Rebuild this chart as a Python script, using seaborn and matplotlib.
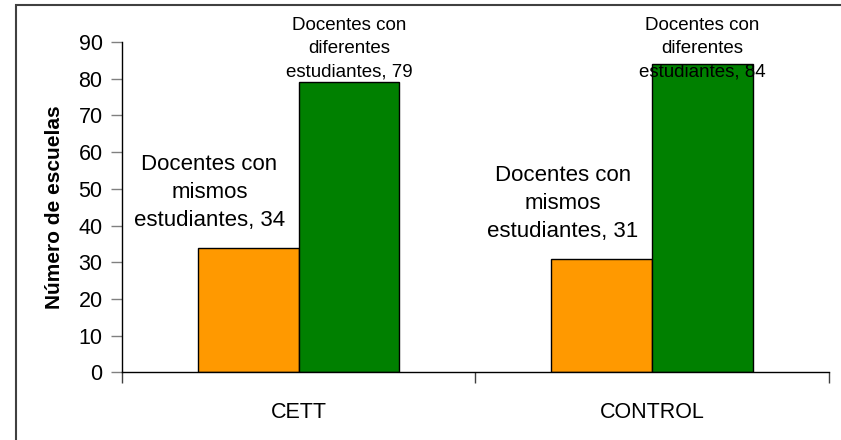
import pandas as pd
import matplotlib.pyplot as plt
import matplotlib.patches as mpatches
import seaborn as sns

# data
grupos = ["CETT", "CONTROL"]
series = ["Docentes con mismos estudiantes", "Docentes con diferentes estudiantes"]
mismos = [34, 31]
diferentes = [79, 84]
colores = ["#FF9900", "#008000"]

df = pd.DataFrame({
    "grupo": grupos * 2,
    "serie": [series[0]] * len(grupos) + [series[1]] * len(grupos),
    "escuelas": mismos + diferentes,
})

sns.set_style("white", {"text.color": "black", "xtick.color": "black", "ytick.color": "black",
                        "axes.labelcolor": "black"})
plt.rcParams["font.family"] = ["Liberation Sans", "DejaVu Sans"]

fig = plt.figure(figsize=(8.41, 4.40), dpi=100)
ax = fig.add_axes([0.145, 0.1536, 0.8407, 0.751])

sns.barplot(data=df, x="grupo", y="escuelas", hue="serie", palette=colores, saturation=1,
            width=0.57, edgecolor="black", linewidth=1, legend=False, ax=ax)

ax.set_xlim(-0.5, 1.5)
ax.set_ylim(0, 90)
ax.set_yticks(range(0, 91, 10))
ax.tick_params(axis="y", left=True, labelsize=15.5, length=8, width=1, color="#808080",
               labelcolor="black", direction="out", pad=6)
ax.tick_params(axis="x", which="major", bottom=False, labelsize=15.5, labelcolor="black", pad=18)
ax.set_xticks([-0.5, 0.5, 1.5], minor=True)
ax.tick_params(axis="x", which="minor", bottom=True, length=8, width=1, color="#404040",
               direction="out")
ax.set_xlabel("")
ax.set_ylabel("Número de escuelas", fontsize=15, fontweight="bold", labelpad=10, color="black")

for side in ["top", "right"]:
    ax.spines[side].set_visible(False)
for side in ["left", "bottom"]:
    ax.spines[side].set_color("black")
    ax.spines[side].set_linewidth(1)

# labels for the orange series (left of the bar, above it)
for bar, v in zip(ax.containers[0], mismos):
    cx = bar.get_x() + bar.get_width() / 2
    ax.text(cx - 0.11, v + 15, f"Docentes con\nmismos\nestudiantes, {v}",
            ha="center", va="center", fontsize=16, linespacing=1.45, color="black")

# labels for the green series (stacked at the top of the plot)
for bar, v in zip(ax.containers[1], diferentes):
    cx = bar.get_x() + bar.get_width() / 2
    ax.text(cx, 88.2, f"Docentes con\ndiferentes\nestudiantes, {v}",
            ha="center", va="center", fontsize=13.5, linespacing=1.5, clip_on=False,
            color="black")

# outer frame (cut by the image on the right and bottom)
fig.patches.append(mpatches.Rectangle((16 / 841, -0.1), 1.2, 1 - 5 / 440 + 0.1,
                                      transform=fig.transFigure, fill=False,
                                      edgecolor="#404040", linewidth=1.5))

fig.savefig("out.png", dpi=100)
